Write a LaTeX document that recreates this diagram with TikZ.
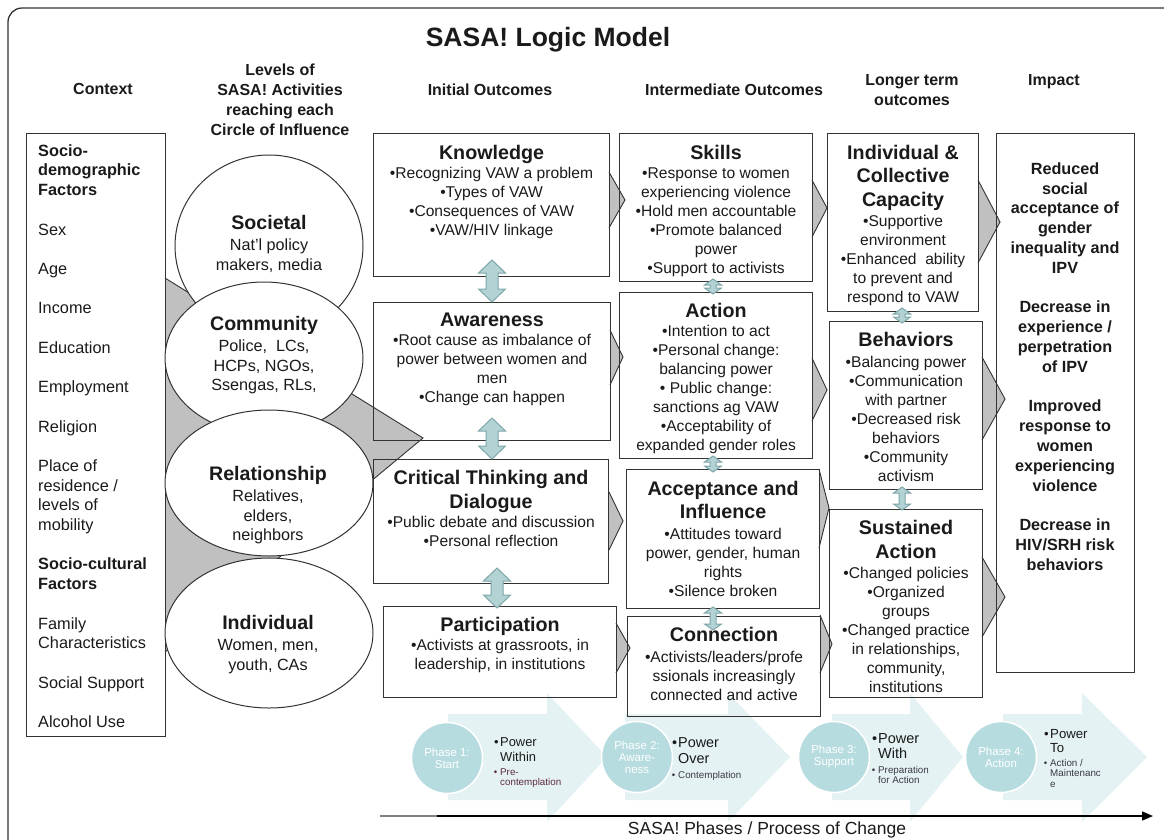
\documentclass[tikz,border=0pt]{standalone}
\usepackage{fontspec}
\setmainfont{Liberation Sans}
\usetikzlibrary{calc,shapes.geometric,arrows.meta}

\definecolor{inkline}{HTML}{333333}
\definecolor{chevgray}{HTML}{C0C0C0}
\definecolor{twfill}{HTML}{B2D2D4}
\definecolor{twedge}{HTML}{7EA6A9}
\definecolor{palearrow}{HTML}{E5F2F3}
\definecolor{phasefill}{HTML}{B7DCDF}
\definecolor{stagered}{HTML}{5C2B3E}
\definecolor{stagegray}{HTML}{3A3A48}
\definecolor{txt}{HTML}{1A1A1A}

\newcommand{\boxtitle}{\fontsize{19.7}{24}\selectfont\bfseries}
\newcommand{\boxbody}{\fontsize{15.6}{19}\selectfont}
\newcommand{\ovaltitle}{\fontsize{19.6}{24}\selectfont\bfseries}

% grey wedge pointing right: back x, top y, tip x, tip y, bottom y
\newcommand{\grayhead}[5]{%
  \fill[chevgray] (#1,#2) -- (#3,#4) -- (#1,#5) -- cycle;
  \draw[inkline,line width=0.9pt] (#1,#2) -- (#3,#4) -- (#1,#5);}

% vertical two-headed block arrow: top tip, bottom tip, head half-width, shaft half-width, head length
\newcommand{\twowayarrow}[5]{%
  \filldraw[twoway] (#1) -- ++(#3,#5) -- ++({-(#3)+(#4)},0) -- ($(#2)+(#4,-#5)$)
    -- ++({(#3)-(#4)},0) -- (#2) -- ++({-(#3)},{-(#5)}) -- ++({(#3)-(#4)},0)
    -- ($(#1)+(-#4,#5)$) -- ++({-(#3)+(#4)},0) -- cycle;}

\tikzset{
  outbox/.style={draw=inkline, line width=1.1pt, anchor=north west, inner sep=0},
  lowered/.style={yshift=-1.7pt},
  boxtext/.style={anchor=north, align=center, inner sep=0, font=\boxbody, lowered},
  oval/.style={ellipse, draw=inkline, line width=1pt, fill=white, inner sep=0},
  ovaltext/.style={anchor=north, align=center, inner sep=0, font=\fontsize{16.2}{19.5}\selectfont, lowered},
  header/.style={anchor=north, align=center, inner sep=0, font=\fontsize{16}{20}\selectfont\bfseries, lowered},
  twoway/.style={fill=twfill, draw=twedge, line width=1pt},
  phase/.style={circle, fill=phasefill, draw=white, line width=1.5pt, minimum size=71, inner sep=0,
    text=white, align=center, font=\fontsize{11.5}{12}\selectfont},
  stagebig/.style={anchor=north west, align=left, inner sep=0, lowered},
  stagesmall/.style={anchor=north west, align=left, inner sep=0, font=\fontsize{9.8}{10.4}\selectfont, text=stagegray, lowered},
}

\begin{document}
\begin{tikzpicture}[x=1pt,y=-1pt, every node/.style={text=txt}]
\useasboundingbox (0,0) rectangle (1164,839);
\clip (0,0) rectangle (1164,839);

% outer frame
\draw[inkline, line width=1.3pt, rounded corners=14pt] (8,8) rectangle (1200,880);

% pale phase arrows
\fill[palearrow] (448,714) -- (547,714) -- (547,693) -- (607,757) -- (547,822) -- (547,800) -- (448,800) -- cycle;
\fill[palearrow] (625,714) -- (728,714) -- (728,693) -- (790,757) -- (728,822) -- (728,800) -- (625,800) -- cycle;
\fill[palearrow] (832,714) -- (910,714) -- (910,693) -- (963,757) -- (910,822) -- (910,800) -- (832,800) -- cycle;
\fill[palearrow] (1003,714) -- (1082,714) -- (1082,693) -- (1147,757) -- (1082,822) -- (1082,800) -- (1003,800) -- cycle;

% wedge fanning out from the context column
\fill[chevgray] (165,278) -- (423,438) -- (165,652) -- cycle;
\draw[inkline, line width=0.9pt] (165,278) -- (423,438) -- (165,652);

% wedges between outcome columns
\grayhead{609}{172}{625}{200}{228}
\grayhead{610}{330}{623}{357}{385}
\grayhead{609}{492}{623}{521}{550}
\grayhead{616}{623}{630}{648}{673}
\grayhead{812}{180}{827}{208}{237}
\grayhead{812}{358}{827}{390}{421}
\grayhead{819}{469}{829}{508}{548}
\grayhead{820}{615}{832}{644}{673}
\grayhead{978}{180}{1000}{222}{263}
\grayhead{982}{357}{1005}{399}{440}
\grayhead{982}{557}{1005}{597}{637}

% title and column headers
\node[anchor=base, inner sep=0, font=\fontsize{26.5}{30}\selectfont\bfseries] (title) at (548,46) {SASA! Logic Model};
\node[header] (hctx) at (103,81.7) {Context};
\node[header] (hlvl) at (280,61.7) {Levels of\\SASA! Activities\\reaching each\\Circle of Influence};
\node[header] (hini) at (490,81.7) {Initial Outcomes};
\node[header] (hmid) at (734,81.7) {Intermediate Outcomes};
\node[header] (hlong) at (912,72.7) {Longer term\\outcomes};
\node[header] (himp) at (1054,72.7) {Impact};

% context column
\node[outbox, minimum width=139, minimum height=603] (ctx) at (26,133) {};
\node[anchor=north west, align=left, inner sep=0, font=\fontsize{16.3}{19.7}\selectfont, lowered] (ctxT) at (38,142.5)
  {\textbf{Socio-}\\\textbf{demographic}\\\textbf{Factors}\\[19.7pt]Sex\\[19.7pt]Age\\[19.7pt]Income\\[19.7pt]Education\\[19.7pt]Employment\\[19.7pt]Religion\\[19.7pt]Place of\\residence /\\levels of\\mobility\\[19.7pt]\textbf{Socio-cultural}\\\textbf{Factors}\\[19.7pt]Family\\Characteristics\\[19.7pt]Social Support\\[19.7pt]Alcohol Use};

% circles of influence
\node[oval, minimum width=188, minimum height=182] (soc) at (269,246) {};
\node[oval, minimum width=198, minimum height=152] (com) at (264,358) {};
\node[oval, minimum width=208, minimum height=146] (rel) at (269,483) {};
\node[oval, minimum width=208, minimum height=150] (ind) at (269,633) {};
\node[ovaltext] (socT) at (269,213) {{\ovaltitle Societal}\\[2pt]Nat’l policy\\makers, media};
\node[ovaltext] (comT) at (264,314) {{\ovaltitle Community}\\[2pt]Police,~ LCs,\\HCPs, NGOs,\\Ssengas, RLs,};
\node[ovaltext] (relT) at (268,464) {{\ovaltitle Relationship}\\[2pt]Relatives,\\elders,\\neighbors};
\node[ovaltext] (indT) at (268,613) {{\ovaltitle Individual}\\[2pt]Women, men,\\youth, CAs};

% initial outcomes
\node[outbox, minimum width=236, minimum height=143] (know) at (373,133) {};
\node[outbox, minimum width=237, minimum height=138] (aware) at (373,302) {};
\node[outbox, minimum width=235, minimum height=124] (crit) at (373,459) {};
\node[outbox, minimum width=233, minimum height=91] (part) at (383,606) {};
\node[boxtext] (knowT) at ($(know.north)+(0,10)$) {{\boxtitle Knowledge}\\•Recognizing VAW a problem\\•Types of VAW\\•Consequences of VAW\\•VAW/HIV linkage};
\node[boxtext] (awareT) at ($(aware.north)+(0,9)$) {{\boxtitle Awareness}\\•Root cause as imbalance of\\power between women and\\men\\•Change can happen};
\node[boxtext] (critT) at ($(crit.north)+(0,9)$) {{\boxtitle Critical Thinking and}\\[5pt]{\boxtitle Dialogue}\\•Public debate and discussion\\•Personal reflection};
\node[boxtext] (partT) at ($(part.north)+(0,9)$) {{\boxtitle Participation}\\•Activists at grassroots, in\\leadership, in institutions};

% intermediate outcomes
\node[outbox, minimum width=193, minimum height=148] (skill) at (619,133) {};
\node[outbox, minimum width=193, minimum height=166] (act) at (619,292) {};
\node[outbox, minimum width=193, minimum height=139] (acc) at (626,469) {};
\node[outbox, minimum width=193, minimum height=100] (conn) at (627,616) {};
\node[boxtext] (skillT) at ($(skill.north)+(0,10)$) {{\boxtitle Skills}\\•Response to women\\experiencing violence\\•Hold men accountable\\•Promote balanced\\power\\•Support to activists};
\node[boxtext] (actT) at ($(act.north)+(0,9)$) {{\boxtitle Action}\\•Intention to act\\•Personal change:\\balancing power\\• Public change:\\sanctions ag VAW\\•Acceptability of\\expanded gender roles};
\node[boxtext] (accT) at ($(acc.north)+(0,10)$) {{\boxtitle Acceptance and}\\[4pt]{\boxtitle Influence}\\[2pt]•Attitudes toward\\power, gender, human\\rights\\•Silence broken};
\node[boxtext] (connT) at ($(conn.north)+(0,9)$) {{\boxtitle Connection}\\[2pt]•Activists/leaders/profe\\ssionals increasingly\\connected and active};

% longer term outcomes
\node[outbox, minimum width=151, minimum height=178] (cap) at (827,133) {};
\node[outbox, minimum width=153, minimum height=168] (beh) at (829,321) {};
\node[outbox, minimum width=153, minimum height=188] (sus) at (829,509) {};
\node[boxtext] (capT) at ($(cap.north)+(0,10)$) {{\boxtitle Individual \&}\\[4.5pt]{\boxtitle Collective}\\[4.5pt]{\boxtitle Capacity}\\[1pt]•Supportive\\environment\\•Enhanced~ ability\\to prevent and\\respond to VAW};
\node[boxtext] (behT) at ($(beh.north)+(0,9)$) {{\boxtitle Behaviors}\\[2pt]•Balancing power\\•Communication\\with partner\\•Decreased risk\\behaviors\\•Community\\activism};
\node[boxtext] (susT) at ($(sus.north)+(0,9)$) {{\boxtitle Sustained}\\[5pt]{\boxtitle Action}\\[1pt]•Changed policies\\•Organized\\groups\\•Changed practice\\in relationships,\\community,\\institutions};

% impact
\node[outbox, minimum width=138, minimum height=539] (imp) at (996,133) {};
\node[anchor=north, align=center, inner sep=0, font=\fontsize{16.2}{19.8}\selectfont\bfseries, lowered] (impT) at (1065,160.6)
  {Reduced\\social\\acceptance of\\gender\\inequality and\\IPV\\[19.8pt]Decrease in\\experience /\\perpetration\\of IPV\\[19.8pt]Improved\\response to\\women\\experiencing\\violence\\[19.8pt]Decrease in\\HIV/SRH risk\\behaviors};

% two-way links between stacked outcomes
\coordinate (tw1a) at (492,260); \coordinate (tw1b) at (492,302);
\coordinate (tw2a) at (492,418); \coordinate (tw2b) at (492,459);
\coordinate (tw3a) at (497,568); \coordinate (tw3b) at (497,608);
\coordinate (tw4a) at (713,279); \coordinate (tw4b) at (713,294);
\coordinate (tw5a) at (713,456); \coordinate (tw5b) at (713,472);
\coordinate (tw6a) at (713,607); \coordinate (tw6b) at (713,630);
\coordinate (tw7a) at (902,308); \coordinate (tw7b) at (902,323);
\coordinate (tw8a) at (902,487); \coordinate (tw8b) at (902,510);
\twowayarrow{tw1a}{tw1b}{13.5}{6}{13}
\twowayarrow{tw2a}{tw2b}{13.5}{6}{13}
\twowayarrow{tw3a}{tw3b}{13.5}{6}{13}
\twowayarrow{tw4a}{tw4b}{8.5}{3}{6}
\twowayarrow{tw5a}{tw5b}{8.5}{3}{6}
\twowayarrow{tw6a}{tw6b}{8.5}{3}{6}
\twowayarrow{tw7a}{tw7b}{8.5}{3}{6}
\twowayarrow{tw8a}{tw8b}{8.5}{3}{6}

% phases
\node[phase] (ph1) at (447,758) {Phase 1:\\Start};
\node[phase] (ph2) at (637,757) {Phase 2:\\Aware-\\ness};
\node[phase] (ph3) at (834,757) {Phase 3:\\Support};
\node[phase] (ph4) at (1001,757) {Phase 4:\\Action};

\node[stagebig, font=\fontsize{12.9}{15}\selectfont] (pw1) at (500,736) {\llap{•\hspace{1.5pt}}Power\\Within};
\node[stagesmall, text=stagered] (st1) at (500,766.5) {\llap{•\hspace{3pt}}Pre-\\contemplation};
\node[stagebig, font=\fontsize{14.4}{16}\selectfont] (pw2) at (678,735.4) {\llap{•\hspace{1pt}}Power\\Over};
\node[stagesmall] (st2) at (678,769.5) {\llap{•\hspace{3pt}}Contemplation};
\node[stagebig, font=\fontsize{14.5}{15}\selectfont] (pw3) at (878,731.4) {\llap{•\hspace{1pt}}Power\\With};
\node[stagesmall] (st3) at (878,764.5) {\llap{•\hspace{3pt}}Preparation\\for Action};
\node[stagebig, font=\fontsize{13.2}{14}\selectfont] (pw4) at (1050,728) {\llap{•\hspace{1.5pt}}Power\\To};
\node[stagesmall] (st4) at (1050,757.5) {\llap{•\hspace{3pt}}Action /\\Maintenanc\\e};

% process axis
\coordinate (axL) at (380,816);
\coordinate (axM) at (437,816);
\coordinate (axR) at (1153,816);
\draw[gray, line width=1.6pt] (axL) -- (axM);
\draw[black, line width=1.6pt, -{Triangle[length=11pt,width=9pt]}] (axM) -- (axR);
\node[anchor=base, inner sep=0, font=\fontsize{17.5}{20}\selectfont] (axT) at (767,834) {SASA! Phases / Process of Change};
\end{tikzpicture}
\end{document}
